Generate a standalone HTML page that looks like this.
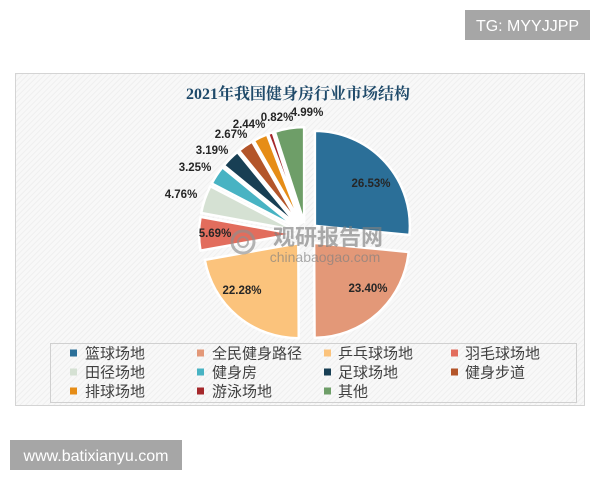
<!DOCTYPE html>
<html>
<head>
<meta charset="utf-8">
<style>
html,body{margin:0;padding:0;background:#fff;}
body{width:600px;height:480px;position:relative;overflow:hidden;}
svg{position:absolute;left:0;top:0;}
</style>
</head>
<body>
<svg width="600" height="480" viewBox="0 0 600 480" xmlns="http://www.w3.org/2000/svg">
  <defs>
    <pattern id="hatch" width="4" height="4" patternUnits="userSpaceOnUse" patternTransform="rotate(45)">
      <rect width="4" height="4" fill="#f8f8f8"/>
      <rect width="1" height="4" fill="#efefef"/>
    </pattern>
  </defs>
  <rect x="0" y="0" width="600" height="480" fill="#ffffff"/>

  <!-- top-right tag -->
  <rect x="465" y="10" width="125" height="30" fill="#a6a6a6"/>
  <text x="527.5" y="31" text-anchor="middle" font-family="Liberation Sans, sans-serif" font-size="16" fill="#ffffff">TG: MYYJJPP</text>

  <!-- chart frame -->
  <rect x="15.5" y="73.5" width="569" height="332" fill="url(#hatch)" stroke="#d4d4d4" stroke-width="1"/>

  <!-- title -->
  <text x="298" y="99" text-anchor="middle" font-family="Liberation Serif, 'Noto Serif CJK SC', serif" font-weight="bold" font-size="16" fill="#1f4a6a">2021年我国健身房行业市场结构</text>

  <!-- pie slices -->
  <g stroke="#ffffff" stroke-width="2.5" stroke-linejoin="round">
    <path d="M314.88,225.93 L314.88,130.93 A95,95 0 0 1 409.44,235.02 Z" fill="#2b6f98"/>
    <path d="M314.09,242.86 L408.65,251.95 A95,95 0 0 1 314.55,337.86 Z" fill="#e39878"/>
    <path d="M298.32,243.22 L298.78,338.22 A95,95 0 0 1 204.79,259.86 Z" fill="#fbc37c"/>
    <path d="M294,233.97 L200.47,250.61 A95,95 0 0 1 200.56,216.85 Z" fill="#e26d5d"/>
    <path d="M294.65,230.10 L201.21,212.98 A95,95 0 0 1 210.39,186.22 Z" fill="#d5e1d3"/>
    <path d="M295.98,227.40 L211.72,183.52 A95,95 0 0 1 222.38,167.33 Z" fill="#48b3c3"/>
    <path d="M297.51,225.52 L223.91,165.45 A95,95 0 0 1 237.33,152.01 Z" fill="#183f54"/>
    <path d="M299.20,224.11 L239.02,150.60 A95,95 0 0 1 252.13,141.59 Z" fill="#b3552a"/>
    <path d="M300.87,223.15 L253.80,140.63 A95,95 0 0 1 266.95,134.41 Z" fill="#e68d17"/>
    <path d="M302.01,222.68 L268.09,133.94 A95,95 0 0 1 272.72,132.31 Z" fill="#a5282b"/>
    <path d="M304.13,222.15 L274.84,131.78 A95,95 0 0 1 304.13,127.15 Z" fill="#6e9e68"/>
  </g>

  <!-- watermark -->
  <g opacity="0.65">
    <circle cx="243" cy="242" r="11" fill="none" stroke="#8f8f8f" stroke-width="3"/>
    <circle cx="243" cy="242" r="5" fill="none" stroke="#8f8f8f" stroke-width="2"/>
    <text x="328" y="245" text-anchor="middle" font-family="Liberation Sans, 'Noto Sans CJK SC', sans-serif" font-weight="bold" font-size="22" fill="#808080">观研报告网</text>
    <text x="325" y="262" text-anchor="middle" font-family="Liberation Sans, sans-serif" font-size="14" fill="#808080">chinabaogao.com</text>
  </g>

  <!-- data labels -->
  <g font-family="Liberation Sans, sans-serif" font-weight="bold" font-size="11.5" fill="#262626" text-anchor="middle">
    <text x="371" y="187">26.53%</text>
    <text x="368" y="292">23.40%</text>
    <text x="242" y="294">22.28%</text>
    <text x="215" y="237">5.69%</text>
    <text x="181" y="198">4.76%</text>
    <text x="195" y="171">3.25%</text>
    <text x="212" y="154">3.19%</text>
    <text x="231" y="138">2.67%</text>
    <text x="249" y="128">2.44%</text>
    <text x="277" y="121">0.82%</text>
    <text x="307" y="116">4.99%</text>
  </g>

  <!-- legend -->
  <rect x="50.5" y="343.5" width="526" height="59" fill="url(#hatch)" stroke="#d0d0d0" stroke-width="1"/>
  <g font-family="Liberation Sans, 'Noto Sans CJK SC', sans-serif" font-size="15" fill="#404040">
    <rect x="70" y="349.5" width="7" height="7" fill="#2b6f98"/>
    <text x="85" y="358.5">篮球场地</text>
    <rect x="197" y="349.5" width="7" height="7" fill="#e39878"/>
    <text x="212" y="358.5">全民健身路径</text>
    <rect x="324" y="349.5" width="7" height="7" fill="#fbc37c"/>
    <text x="338" y="358.5">乒乓球场地</text>
    <rect x="451" y="349.5" width="7" height="7" fill="#e26d5d"/>
    <text x="465" y="358.5">羽毛球场地</text>

    <rect x="70" y="368.5" width="7" height="7" fill="#d5e1d3"/>
    <text x="85" y="377.5">田径场地</text>
    <rect x="197" y="368.5" width="7" height="7" fill="#48b3c3"/>
    <text x="212" y="377.5">健身房</text>
    <rect x="324" y="368.5" width="7" height="7" fill="#183f54"/>
    <text x="338" y="377.5">足球场地</text>
    <rect x="451" y="368.5" width="7" height="7" fill="#b3552a"/>
    <text x="465" y="377.5">健身步道</text>

    <rect x="70" y="387.5" width="7" height="7" fill="#e68d17"/>
    <text x="85" y="396.5">排球场地</text>
    <rect x="197" y="387.5" width="7" height="7" fill="#a5282b"/>
    <text x="212" y="396.5">游泳场地</text>
    <rect x="324" y="387.5" width="7" height="7" fill="#6e9e68"/>
    <text x="338" y="396.5">其他</text>
  </g>

  <!-- bottom-left tag -->
  <rect x="10" y="440" width="172" height="30" fill="#a6a6a6"/>
  <text x="96" y="461" text-anchor="middle" font-family="Liberation Sans, sans-serif" font-size="16" fill="#ffffff">www.batixianyu.com</text>
</svg>
</body>
</html>
